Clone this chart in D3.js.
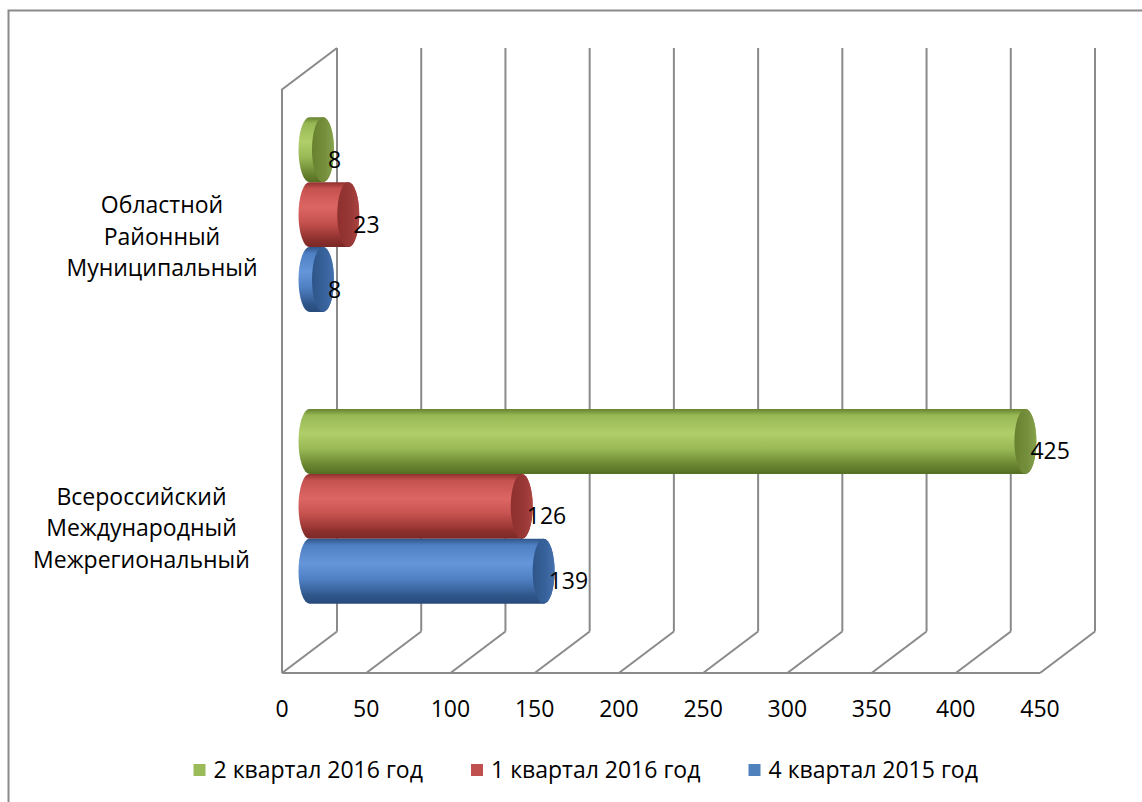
<!DOCTYPE html>
<html>
<head>
<meta charset="utf-8">
<script src="https://cdn.jsdelivr.net/npm/d3@7"></script>
<style>
  html, body { margin: 0; padding: 0; background: #fff; }
  svg { display: block; }
  text { font-family: "Open Sans", "Noto Sans", sans-serif; fill: #000; }
</style>
</head>
<body>
<svg id="chart" width="1142" height="802"></svg>
<script>
// ---------- data ----------
const categories = [
  ["Областной", "Районный", "Муниципальный"],
  ["Всероссийский", "Международный", "Межрегиональный"]
];
const seriesNames = ["2 квартал 2016 год", "1 квартал 2016 год", "4 квартал 2015 год"];
const seriesColors = ["#9BBB59", "#C0504D", "#4F81BD"];
// values[series][category]
const values2q2016 = [8, 425];
const values1q2016 = [23, 126];
const values4q2015 = [8, 139];
const seriesValues = [values2q2016, values1q2016, values4q2015];
const xTicks = [0, 50, 100, 150, 200, 250, 300, 350, 400, 450];

// ---------- layout ----------
const svg = d3.select("#chart");
const frontTop = 89.5, frontBottom = 673;
const dx = 55, dy = -41.5;
const fs = 23;
const x = d3.scaleLinear().domain([0, 450]).range([282, 1040]);
const catKeys = categories.map((c, i) => "c" + i);
const yMid = d3.scaleBand().domain(catKeys)
  .range([frontTop + dy / 2, frontBottom + dy / 2])
  .paddingInner(0.332).paddingOuter(0.166);
const ySer = d3.scaleBand().domain(seriesNames).range([0, yMid.bandwidth()]);
const gridColor = "#8a8a8a";

// outer border (top & left)
svg.append("path")
  .attr("d", "M8.5,802 L8.5,10.5 L1142,10.5")
  .attr("fill", "none").attr("stroke", gridColor).attr("stroke-width", 2);

// ---------- 3D frame ----------
const frame = svg.append("g").attr("fill", "none").attr("stroke", gridColor).attr("stroke-width", 2);
frame.selectAll("line.grid").data(xTicks).join("line")
  .attr("class", "grid")
  .attr("x1", d => x(d) + dx).attr("x2", d => x(d) + dx)
  .attr("y1", frontTop + dy).attr("y2", frontBottom + dy);
frame.selectAll("line.diag").data(xTicks).join("line")
  .attr("class", "diag")
  .attr("x1", d => x(d)).attr("x2", d => x(d) + dx)
  .attr("y1", frontBottom).attr("y2", frontBottom + dy);
frame.append("line")
  .attr("x1", x(0)).attr("x2", x(450))
  .attr("y1", frontBottom).attr("y2", frontBottom);
frame.append("path")
  .attr("d", `M${x(0)},${frontBottom} L${x(0)},${frontTop} L${x(0) + dx},${frontTop + dy}`);

// ---------- gradients ----------
const defs = svg.append("defs");
const shades = [
  { top: "#67822f", hi: "#b0cf6a", mid: "#98b855", bot: "#556f22", cap: "#768f3e", capHi: "#86a34c" },
  { top: "#8e302e", hi: "#dc6663", mid: "#c6524f", bot: "#7a2826", cap: "#983836", capHi: "#aa4441" },
  { top: "#2f5689", hi: "#6596da", mid: "#4f80c4", bot: "#284a7c", cap: "#38629c", capHi: "#4571ad" }
];
shades.forEach((s, i) => {
  const g = defs.append("linearGradient").attr("id", "body" + i)
    .attr("x1", 0).attr("y1", 0).attr("x2", 0).attr("y2", 1);
  [[0, s.top], [0.1, s.mid], [0.38, s.hi], [0.62, s.mid], [0.88, s.top], [1, s.bot]]
    .forEach(([o, c]) => g.append("stop").attr("offset", o).attr("stop-color", c));
  const c = defs.append("linearGradient").attr("id", "cap" + i)
    .attr("x1", 0).attr("y1", 0).attr("x2", 1).attr("y2", 0);
  [[0, s.top], [0.6, s.cap], [1, s.capHi]]
    .forEach(([o, col]) => c.append("stop").attr("offset", o).attr("stop-color", col));
});

// ---------- cylinders ----------
const rx = 11;
const xm = v => x(v) + dx / 2;
const barG = svg.append("g");
categories.forEach((cat, ci) => {
  seriesNames.forEach((name, si) => {
    const v = seriesValues[si][ci];
    const y0 = yMid("c" + ci) + ySer(name);
    const h = ySer.bandwidth();
    const ry = h / 2;
    const x0 = xm(0), x1 = xm(v);
    const g = barG.append("g");
    g.append("path")
      .attr("d", `M${x0},${y0} L${x1},${y0} A${rx},${ry} 0 0 1 ${x1},${y0 + h} L${x0},${y0 + h} A${rx},${ry} 0 0 1 ${x0},${y0} Z`)
      .attr("fill", `url(#body${si})`);
    g.append("ellipse")
      .attr("cx", x1).attr("cy", y0 + ry).attr("rx", rx).attr("ry", ry)
      .attr("fill", `url(#cap${si})`);
    g.append("text")
      .attr("x", x1 + 5).attr("y", y0 + ry + 18)
      .attr("font-size", fs)
      .text(v);
  });
});

// ---------- category labels ----------
const labelCenters = [162, 141.5];
const lineH = 31.5;
categories.forEach((lines, ci) => {
  const cy = yMid("c" + ci) + yMid.bandwidth() / 2 + 22;
  const t = svg.append("text").attr("text-anchor", "middle").attr("font-size", fs);
  lines.forEach((ln, li) => {
    t.append("tspan")
      .attr("x", labelCenters[ci])
      .attr("y", cy + (li - (lines.length - 1) / 2) * lineH + 8)
      .text(ln);
  });
});

// ---------- x axis labels ----------
svg.append("g").selectAll("text").data(xTicks).join("text")
  .attr("x", d => x(d)).attr("y", 717)
  .attr("text-anchor", "middle").attr("font-size", fs)
  .text(d => d);

// ---------- legend ----------
const legend = svg.append("g");
seriesNames.forEach((name, i) => {
  const lx = 193.5 + i * 277.5;
  legend.append("rect")
    .attr("x", lx).attr("y", 764).attr("width", 12).attr("height", 12)
    .attr("fill", seriesColors[i]);
  legend.append("text")
    .attr("x", lx + 20).attr("y", 778).attr("font-size", fs)
    .text(name);
});
</script>
</body>
</html>
